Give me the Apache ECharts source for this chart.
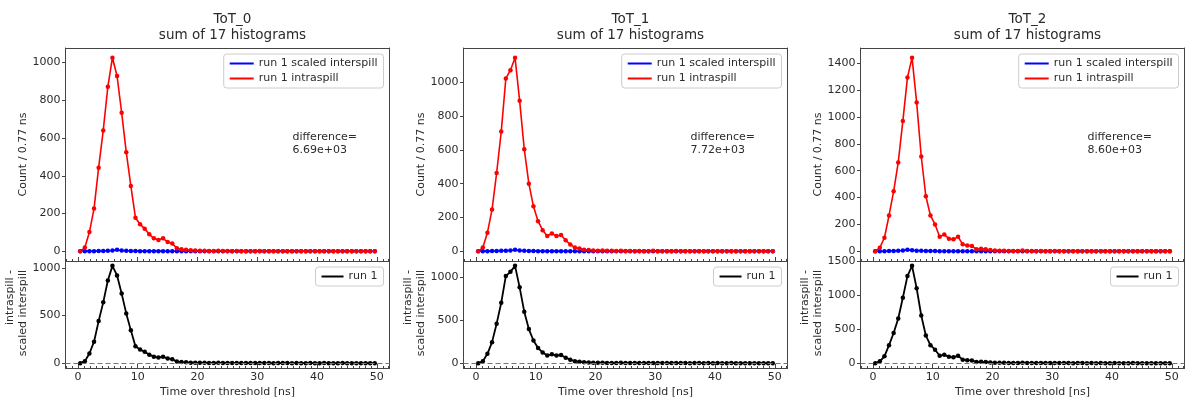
<!DOCTYPE html>
<html>
<head>
<meta charset="utf-8">
<script src="https://cdn.jsdelivr.net/npm/echarts@6/dist/echarts.min.js"></script>
<style>
  html, body { margin: 0; background: #fff; }
  #chart { width: 1192px; height: 399px; }
</style>
</head>
<body>
<div id="chart"></div>
<script>
// histogram bins: 65 bins of 0.77 ns, plotted at bin centres
const binWidth = 0.77
const nBins = 65
const binCenters = Array.from({ length: nBins }, (_, i) => +(binWidth * (i + 0.5)).toFixed(3))

const panelNames = ['ToT_0', 'ToT_1', 'ToT_2']
const subtitle = 'sum of 17 histograms'
const differenceLabels = ['6.69e+03', '7.72e+03', '8.60e+03']

// run 1 intraspill (red)
const intra0 = [
  0, 20, 102, 226, 443, 640, 871, 1025, 928, 734,
  525, 346, 178, 143, 120, 90, 69, 60, 69, 49,
  41, 16, 11, 8, 5, 4, 3, 3, 2, 2,
  3, 2, 2, 1, 2, 1, 1, 1, 1, 2,
  1, 1, 0, 1, 1, 1, 0, 1, 0, 0,
  1, 0, 0, 1, 0, 0, 0, 1, 0, 0,
  0, 0, 0, 0, 0,
]
const intra1 = [
  0, 22, 110, 247, 463, 708, 1022, 1071, 1145, 890,
  604, 400, 266, 178, 125, 90, 106, 90, 96, 65,
  41, 22, 16, 10, 8, 5, 4, 5, 3, 3,
  2, 4, 2, 2, 1, 2, 1, 1, 3, 1,
  1, 1, 1, 2, 1, 1, 0, 1, 1, 0,
  1, 0, 1, 0, 0, 1, 0, 0, 0, 0,
  0, 0, 0, 0, 0,
]
const intra2 = [
  0, 27, 101, 267, 447, 662, 970, 1294, 1442, 1109,
  706, 410, 267, 200, 109, 126, 94, 89, 109, 52,
  44, 40, 15, 20, 15, 10, 6, 5, 4, 3,
  3, 2, 6, 2, 2, 1, 2, 1, 1, 2,
  1, 1, 1, 0, 1, 1, 0, 1, 0, 1,
  0, 0, 1, 0, 0, 0, 1, 0, 0, 0,
  0, 0, 0, 0, 0,
]

// run 1 scaled interspill (blue)
const inter0 = [
  0, 1, 1, 1, 2, 2, 3, 4, 8, 4,
  3, 2, 2, 1, 1, 1, 1, 1, 1, 0,
  0, 0, 0, 0, 0, 0, 0, 0, 0, 0,
  0, 0, 0, 0, 0, 0, 0, 0, 0, 0,
  0, 0, 0, 0, 0, 0, 0, 0, 0, 0,
  0, 0, 0, 0, 0, 0, 0, 0, 0, 0,
  0, 0, 0, 0, 0,
]
const inter1 = [
  0, 1, 1, 2, 2, 3, 4, 5, 9, 5,
  3, 2, 2, 1, 1, 1, 1, 1, 1, 1,
  0, 0, 0, 0, 0, 0, 0, 0, 0, 0,
  0, 0, 0, 0, 0, 0, 0, 0, 0, 0,
  0, 0, 0, 0, 0, 0, 0, 0, 0, 0,
  0, 0, 0, 0, 0, 0, 0, 0, 0, 0,
  0, 0, 0, 0, 0,
]
const inter2 = [
  0, 1, 1, 2, 3, 4, 6, 11, 8, 5,
  4, 3, 2, 2, 1, 1, 1, 1, 1, 1,
  0, 0, 0, 0, 0, 0, 0, 0, 0, 0,
  0, 0, 0, 0, 0, 0, 0, 0, 0, 0,
  0, 0, 0, 0, 0, 0, 0, 0, 0, 0,
  0, 0, 0, 0, 0, 0, 0, 0, 0, 0,
  0, 0, 0, 0, 0,
]

const intraSeries = [intra0, intra1, intra2]
const interSeries = [inter0, inter1, inter2]

// tick labels
const xTicks = [0, 10, 20, 30, 40, 50]
const xMinorTicks = Array.from({ length: 55 }, (_, i) => i - 2)
const topYTicks = [
  [0, 200, 400, 600, 800, 1000],
  [0, 200, 400, 600, 800, 1000],
  [0, 200, 400, 600, 800, 1000, 1200, 1400],
]
const bottomYTicks = [
  [0, 500, 1000],
  [0, 500, 1000],
  [0, 500, 1000, 1500],
]

const FONT = 'DejaVu Sans'
const FS = 11
const TEXT = '#2b2b2b'
const FRAME = '#444'
const BLUE = '#0000ff'
const RED = '#ff0000'

// layout (px)
const LEFTS = [65.5, 463.5, 860.5]
const W = 324
const TOP = 48
const H_TOP = 213
const H_BOT = 107

// matplotlib-like 5% margins
function padRange(lo, hi) {
  const pad = (hi - lo) * 0.05
  return [lo - pad, hi + pad]
}
const [xMin, xMax] = padRange(binCenters[0], binCenters[nBins - 1])
const plain = (v) => String(Math.round(v))

const grid = []
const xAxis = []
const yAxis = []
const series = []
const legend = []
const title = []
const graphic = []

function addFrame(gi, yRange, yTickVals, isBottom, yName) {
  const xMain = xAxis.length
  xAxis.push({
    gridIndex: gi, type: 'value', min: xMin, max: xMax, position: 'bottom',
    axisLine: { show: true, onZero: false, lineStyle: { color: FRAME, width: 1 } },
    axisTick: { show: true, inside: true, length: 4, customValues: xTicks, lineStyle: { color: FRAME } },
    axisLabel: { show: isBottom, customValues: xTicks, formatter: plain, fontSize: FS, color: TEXT, fontFamily: FONT, margin: 4 },
    splitLine: { show: false },
    name: isBottom ? 'Time over threshold [ns]' : '',
    nameLocation: 'middle', nameGap: 19,
    nameTextStyle: { fontSize: FS, color: TEXT, fontFamily: FONT },
  })
  xAxis.push({
    gridIndex: gi, type: 'value', min: xMin, max: xMax, position: 'bottom',
    axisLine: { show: false, onZero: false },
    axisTick: { show: true, inside: true, length: 2, customValues: xMinorTicks, lineStyle: { color: FRAME } },
    axisLabel: { show: false },
    splitLine: { show: false },
  })
  xAxis.push({
    gridIndex: gi, type: 'value', min: xMin, max: xMax, position: 'top',
    axisLine: { show: true, onZero: false, lineStyle: { color: FRAME, width: 1 } },
    axisTick: { show: false }, axisLabel: { show: false }, splitLine: { show: false },
  })
  const yMain = yAxis.length
  yAxis.push({
    gridIndex: gi, type: 'value', min: yRange[0], max: yRange[1], position: 'left',
    axisLine: { show: true, onZero: false, lineStyle: { color: FRAME, width: 1 } },
    axisTick: { show: true, length: 3.5, customValues: yTickVals, lineStyle: { color: FRAME } },
    axisLabel: { customValues: yTickVals, formatter: plain, fontSize: FS, color: TEXT, fontFamily: FONT, margin: 5 },
    splitLine: { show: false },
    name: yName, nameLocation: 'middle', nameGap: 36, nameRotate: 90,
    nameTextStyle: { fontSize: FS, color: TEXT, fontFamily: FONT },
  })
  yAxis.push({
    gridIndex: gi, type: 'value', min: yRange[0], max: yRange[1], position: 'right',
    axisLine: { show: true, onZero: false, lineStyle: { color: FRAME, width: 1 } },
    axisTick: { show: false }, axisLabel: { show: false }, splitLine: { show: false },
  })
  return [xMain, yMain]
}

function lineSeries(name, color, xi, yi, vals, width) {
  return {
    type: 'line', name, xAxisIndex: xi, yAxisIndex: yi,
    data: binCenters.map((x, i) => [x, vals[i]]),
    symbol: 'circle', symbolSize: 4.5, showSymbol: true,
    lineStyle: { width, color }, itemStyle: { color },
    emphasis: { disabled: true }, animation: false,
  }
}

panelNames.forEach((pname, p) => {
  const L = LEFTS[p]
  const intra = intraSeries[p]
  const inter = interSeries[p]
  const diff = intra.map((v, i) => v - inter[i])

  // top panel
  const gTop = grid.length
  grid.push({ left: L, top: TOP, width: W, height: H_TOP })
  const topRange = padRange(Math.min(0, ...intra, ...inter), Math.max(...intra, ...inter))
  const [xt, yt] = addFrame(gTop, topRange, topYTicks[p], false, 'Count / 0.77 ns')
  series.push(lineSeries('run 1 scaled interspill', BLUE, xt, yt, inter, 1.6))
  series.push(lineSeries('run 1 intraspill', RED, xt, yt, intra, 1.6))

  // bottom panel
  const gBot = grid.length
  grid.push({ left: L, top: TOP + H_TOP, width: W, height: H_BOT })
  const botRange = padRange(Math.min(0, ...diff), Math.max(...diff))
  const [xb, yb] = addFrame(gBot, botRange, bottomYTicks[p], true, '')
  const black = lineSeries('run 1', '#000', xb, yb, diff, 1.8)
  black.markLine = {
    silent: true, symbol: 'none', label: { show: false },
    lineStyle: { color: '#777', type: [5, 3], width: 1 },
    data: [{ yAxis: 0 }],
  }
  series.push(black)

  const legendBase = {
    orient: 'vertical', right: 1192 - (L + W) + 6, icon: 'rect',
    itemWidth: 24, itemHeight: 2, itemGap: 4, selectedMode: false,
    padding: [4, 6], borderColor: '#ccc', borderWidth: 1, borderRadius: 3,
    backgroundColor: 'rgba(255,255,255,0.8)',
    textStyle: { fontSize: FS, color: TEXT, fontFamily: FONT },
  }
  legend.push(Object.assign({}, legendBase, { top: 54, data: ['run 1 scaled interspill', 'run 1 intraspill'] }))
  legend.push(Object.assign({}, legendBase, { top: 267, itemWidth: 22, data: ['run 1'] }))

  title.push({
    text: pname + '\n' + subtitle, left: L + W / 2, top: 7, textAlign: 'center',
    textStyle: { fontSize: 13.5, fontWeight: 'normal', color: TEXT, fontFamily: FONT, lineHeight: 15.5 },
  })

  graphic.push({
    type: 'text', left: L + 227, top: 131,
    style: { text: 'difference=\n' + differenceLabels[p], font: FS + 'px "DejaVu Sans"', fill: TEXT, lineHeight: 13 },
  })
  // bottom y label, lines right-aligned as in the original
  graphic.push({
    type: 'text', x: L - 55.5, y: 270, rotation: Math.PI / 2,
    style: { text: 'intraspill -', font: FS + 'px "DejaVu Sans"', fill: TEXT, align: 'right', verticalAlign: 'middle' },
  })
  graphic.push({
    type: 'text', x: L - 42.5, y: 270, rotation: Math.PI / 2,
    style: { text: 'scaled interspill', font: FS + 'px "DejaVu Sans"', fill: TEXT, align: 'right', verticalAlign: 'middle' },
  })
})

const chart = echarts.init(document.getElementById('chart'), null, { renderer: 'canvas' })
chart.setOption({
  backgroundColor: '#fff',
  animation: false,
  textStyle: { fontFamily: FONT },
  title, grid, xAxis, yAxis, series, legend, graphic,
})
</script>
</body>
</html>
